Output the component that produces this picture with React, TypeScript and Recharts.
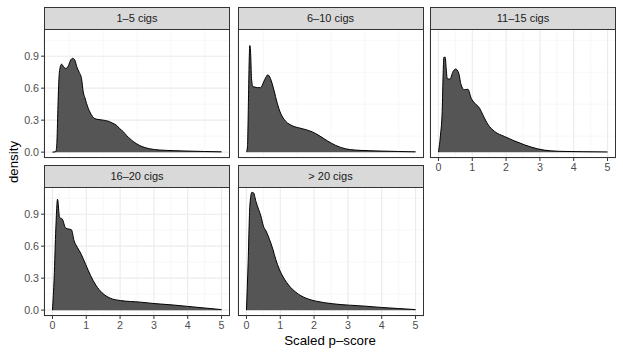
import React from 'react';
import { AreaChart, Area, XAxis, YAxis, CartesianGrid } from 'recharts';

// density curves, one x/y pair of arrays per panel
const cigs15X = [0, 0.1, 0.13, 0.16, 0.19, 0.23, 0.27, 0.33, 0.4, 0.47, 0.54, 0.6, 0.66, 0.72, 0.79, 0.86, 0.91, 0.96, 1.01, 1.11, 1.25, 1.38, 1.5, 1.65, 1.79, 1.9, 1.99, 2.1, 2.19, 2.33, 2.48, 2.65, 2.87, 3.16, 3.6, 4.0, 4.5, 5.0];
const cigs15Y = [0, 0.005, 0.08, 0.4, 0.68, 0.8, 0.825, 0.8, 0.785, 0.81, 0.865, 0.88, 0.865, 0.8, 0.75, 0.69, 0.565, 0.51, 0.455, 0.375, 0.315, 0.305, 0.3, 0.29, 0.27, 0.25, 0.22, 0.19, 0.157, 0.115, 0.08, 0.052, 0.032, 0.02, 0.014, 0.01, 0.006, 0.003];

const cigs610X = [0, 0.03, 0.06, 0.08, 0.1, 0.12, 0.15, 0.19, 0.25, 0.32, 0.42, 0.51, 0.57, 0.63, 0.71, 0.81, 0.91, 1.01, 1.16, 1.36, 1.65, 1.95, 2.15, 2.39, 2.64, 2.93, 3.23, 3.6, 4.0, 4.5, 5.0];
const cigs610Y = [0, 0.05, 0.5, 0.85, 1.0, 0.95, 0.69, 0.615, 0.61, 0.605, 0.605, 0.66, 0.7, 0.725, 0.69, 0.585, 0.46, 0.365, 0.29, 0.247, 0.22, 0.19, 0.155, 0.106, 0.063, 0.031, 0.019, 0.014, 0.01, 0.006, 0.003];

const cigs1115X = [0, 0.06, 0.11, 0.14, 0.16, 0.2, 0.23, 0.26, 0.34, 0.43, 0.51, 0.6, 0.67, 0.77, 0.87, 0.97, 1.07, 1.22, 1.32, 1.46, 1.66, 1.95, 2.24, 2.54, 2.93, 3.32, 3.8, 4.3, 5.0];
const cigs1115Y = [0, 0.16, 0.38, 0.75, 0.89, 0.89, 0.78, 0.69, 0.685, 0.755, 0.78, 0.74, 0.63, 0.585, 0.59, 0.505, 0.46, 0.41, 0.345, 0.262, 0.194, 0.147, 0.106, 0.069, 0.031, 0.012, 0.006, 0.004, 0.002];

const cigs1620X = [0, 0.05, 0.1, 0.15, 0.21, 0.29, 0.39, 0.49, 0.56, 0.64, 0.74, 0.85, 0.98, 1.13, 1.28, 1.47, 1.71, 2.01, 2.6, 3.0, 3.58, 4.0, 4.5, 5.0];
const cigs1620Y = [0, 0.3, 0.77, 1.04, 0.87, 0.855, 0.77, 0.76, 0.755, 0.65, 0.587, 0.525, 0.43, 0.323, 0.236, 0.162, 0.112, 0.09, 0.075, 0.062, 0.048, 0.035, 0.02, 0.005];

const cigs20X = [0, 0.05, 0.1, 0.16, 0.21, 0.28, 0.36, 0.43, 0.5, 0.58, 0.68, 0.78, 0.87, 0.97, 1.12, 1.26, 1.46, 1.76, 2.06, 2.55, 3.53, 4.0, 4.5, 5.0];
const cigs20Y = [0, 0.45, 0.975, 1.105, 1.1, 1.02, 0.944, 0.88, 0.79, 0.742, 0.665, 0.572, 0.472, 0.385, 0.292, 0.23, 0.168, 0.112, 0.084, 0.06, 0.037, 0.025, 0.015, 0.005];

const xTicks = [0, 1, 2, 3, 4, 5];
const xMinor = [0.5, 1.5, 2.5, 3.5, 4.5];
const yTicks = [0, 0.3, 0.6, 0.9];
const yMinor = [0.15, 0.45, 0.75, 1.05];

const FONT = '"Liberation Sans", Arial, Helvetica, sans-serif';
const PANEL_W = 186;
const PANEL_H = 129;
const AXIS_W = 40;
const AXIS_H = 22;

interface PanelProps {
  title: string;
  xs: number[];
  ys: number[];
  left: number;
  stripTop: number;
  showX: boolean;
  showY: boolean;
}

function Panel({ title, xs, ys, left, stripTop, showX, showY }: PanelProps) {
  const data = xs.map((x, i) => ({ x, y: ys[i] }));
  const plotTop = stripTop + 22;
  const tickStyle = { fill: '#4d4d4d', fontSize: 10.7, fontFamily: FONT };

  return (
    <>
      <div style={{ position: 'absolute', left: left - AXIS_W, top: plotTop }}>
        <AreaChart width={AXIS_W + PANEL_W} height={PANEL_H + AXIS_H} data={data}
          margin={{ top: 0, right: 0, bottom: 0, left: 0 }}>
          <XAxis dataKey="x" type="number" domain={[-0.25, 5.25]} ticks={xTicks} allowDataOverflow
            height={AXIS_H} axisLine={false} tickSize={3} tickMargin={2}
            tickLine={showX ? { stroke: '#333333' } : false} tick={showX ? tickStyle : false} />
          <XAxis xAxisId="minor" dataKey="x" type="number" domain={[-0.25, 5.25]} ticks={xMinor} allowDataOverflow hide />
          <YAxis type="number" domain={[-0.055, 1.155]} ticks={yTicks} allowDataOverflow
            width={AXIS_W} axisLine={false} tickSize={3} tickMargin={2}
            tickFormatter={(v: number) => v.toFixed(1)}
            tickLine={showY ? { stroke: '#333333' } : false} tick={showY ? tickStyle : false} />
          <YAxis yAxisId="minor" type="number" domain={[-0.055, 1.155]} ticks={yMinor} allowDataOverflow hide />
          <CartesianGrid xAxisId="minor" yAxisId="minor" stroke="#f2f2f2" strokeWidth={0.6} />
          <CartesianGrid stroke="#ebebeb" strokeWidth={1.1} />
          <Area type="monotone" dataKey="y" baseValue={0} fill="#555555" fillOpacity={1}
            stroke="#000000" strokeWidth={1} isAnimationActive={false} dot={false} activeDot={false} />
        </AreaChart>
      </div>
      <div style={{
        position: 'absolute', left, top: plotTop, width: PANEL_W, height: PANEL_H,
        border: '1px solid #333333', boxSizing: 'border-box', pointerEvents: 'none',
      }} />
      <div style={{
        position: 'absolute', left, top: stripTop, width: PANEL_W, height: 23,
        background: '#d9d9d9', border: '1px solid #333333', boxSizing: 'border-box',
        fontFamily: FONT, fontSize: 11, color: '#1a1a1a', textAlign: 'center', lineHeight: '21px',
      }}>{title}</div>
    </>
  );
}

export default function App() {
  return (
    <div style={{ position: 'absolute', left: 0, top: 0, width: 623, height: 356, background: '#ffffff', fontFamily: FONT }}>
      <Panel title="1–5 cigs" xs={cigs15X} ys={cigs15Y} left={44} stripTop={6.5} showX={false} showY />
      <Panel title="6–10 cigs" xs={cigs610X} ys={cigs610Y} left={237.5} stripTop={6.5} showX={false} showY={false} />
      <Panel title="11–15 cigs" xs={cigs1115X} ys={cigs1115Y} left={430} stripTop={6.5} showX showY={false} />
      <Panel title="16–20 cigs" xs={cigs1620X} ys={cigs1620Y} left={44} stripTop={165} showX showY />
      <Panel title="> 20 cigs" xs={cigs20X} ys={cigs20Y} left={237.5} stripTop={165} showX showY={false} />
      <div style={{ position: 'absolute', left: 230, top: 333, width: 200, textAlign: 'center', fontSize: 13.3, color: '#000' }}>
        Scaled p–score
      </div>
      <div style={{
        position: 'absolute', left: 12.5, top: 161.5, transform: 'translate(-50%, -50%) rotate(-90deg)',
        fontSize: 13.3, color: '#000', whiteSpace: 'nowrap',
      }}>density</div>
    </div>
  );
}
